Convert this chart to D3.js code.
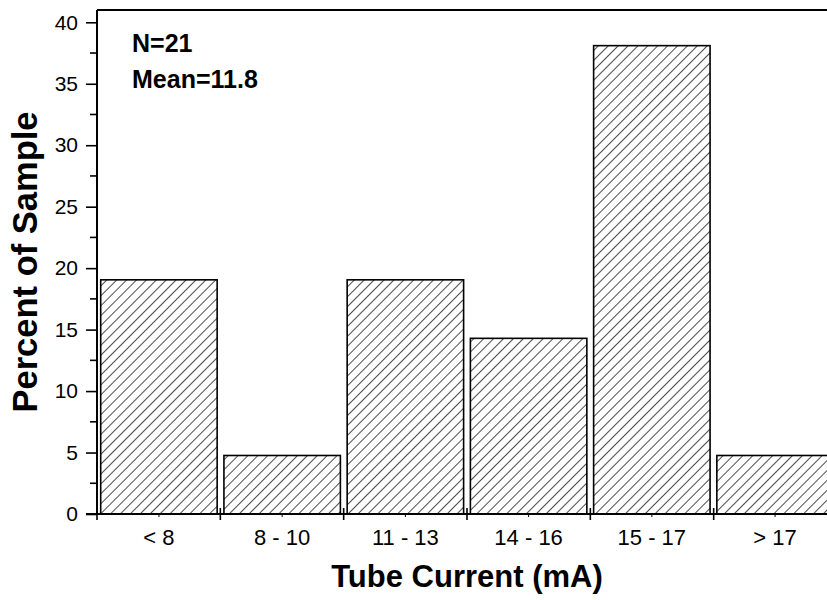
<!DOCTYPE html>
<html>
<head>
<meta charset="utf-8">
<script src="https://cdn.jsdelivr.net/npm/d3@7"></script>
<style>
  body { margin: 0; background: #fff; }
  svg { display: block; font-family: "Liberation Sans", Arial, sans-serif; }
</style>
</head>
<body>
<div id="histogram"></div>
<script>
var categories = ["< 8", "8 - 10", "11 - 13", "14 - 16", "15 - 17", "> 17"];
var percentValues = [19.05, 4.76, 19.05, 14.29, 38.1, 4.76];
var yTickValues = [0, 5, 10, 15, 20, 25, 30, 35, 40];
var notes = ["N=21", "Mean=11.8"];

var width = 827, height = 600;
var margin = {top: 10, left: 97, bottom: 86};
var plotRight = 837;   // the frame runs past the window edge, as in the picture

var svg = d3.select("#histogram").append("svg")
    .attr("width", width)
    .attr("height", height);

var defs = svg.append("defs");
var pattern = defs.append("pattern")
    .attr("id", "hatch")
    .attr("patternUnits", "userSpaceOnUse")
    .attr("width", 7)
    .attr("height", 7)
    .attr("patternTransform", "rotate(45)");
pattern.append("rect").attr("width", 7).attr("height", 7).attr("fill", "#fff");
pattern.append("line")
    .attr("x1", 0).attr("y1", 0)
    .attr("x2", 0).attr("y2", 7)
    .attr("stroke", "#000")
    .attr("stroke-width", 1.4);

var x = d3.scaleBand()
    .domain(categories)
    .range([margin.left, plotRight])
    .paddingInner(0.055)
    .paddingOuter(0.03)
    .align(0.5);

var xEdges = d3.scaleLinear()
    .domain([0, categories.length])
    .range([margin.left, plotRight]);

var y = d3.scaleLinear()
    .domain([0, 41])
    .range([height - margin.bottom, margin.top]);

// bars
svg.append("g")
    .selectAll("rect")
    .data(percentValues)
    .enter().append("rect")
        .attr("x", function(d, i) { return x(categories[i]); })
        .attr("y", function(d) { return y(d); })
        .attr("width", x.bandwidth())
        .attr("height", function(d) { return y(0) - y(d); })
        .attr("fill", "url(#hatch)")
        .attr("stroke", "#000")
        .attr("stroke-width", 1.6);

// frame top
svg.append("line")
    .attr("x1", margin.left).attr("x2", plotRight)
    .attr("y1", y.range()[1]).attr("y2", y.range()[1])
    .attr("stroke", "#000").attr("stroke-width", 2);

// y axis
var yAxis = svg.append("g")
    .attr("transform", "translate(" + margin.left + ",0)")
    .call(d3.axisLeft(y).tickValues(yTickValues).tickSize(11).tickPadding(8))
    .call(function(g) { g.select(".domain").remove(); });
yAxis.selectAll(".tick line").attr("stroke-width", 1.6);
yAxis.selectAll("text")
    .attr("font-size", 21)
    .attr("font-family", "Liberation Sans, Arial, sans-serif")
    .attr("fill", "#000");

svg.append("g")
    .selectAll("line")
    .data(yTickValues.slice(0, -1))
    .enter().append("line")
        .attr("x1", margin.left - 7).attr("x2", margin.left)
        .attr("y1", function(d) { return y(d + 2.5); })
        .attr("y2", function(d) { return y(d + 2.5); })
        .attr("stroke", "#000").attr("stroke-width", 1.6);

svg.append("line")
    .attr("x1", margin.left).attr("x2", margin.left)
    .attr("y1", y.range()[1]).attr("y2", y(0) + 1)
    .attr("stroke", "#000").attr("stroke-width", 2);

// x axis
svg.append("line")
    .attr("x1", margin.left - 11).attr("x2", plotRight)
    .attr("y1", y(0)).attr("y2", y(0))
    .attr("stroke", "#000").attr("stroke-width", 2);

svg.append("g")
    .selectAll("line")
    .data(d3.range(categories.length + 1))
    .enter().append("line")
        .attr("x1", function(d) { return xEdges(d); })
        .attr("x2", function(d) { return xEdges(d); })
        .attr("y1", y(0) - 6).attr("y2", y(0) + 6)
        .attr("stroke", "#000").attr("stroke-width", 1.6);

svg.append("g")
    .selectAll("line")
    .data(categories)
    .enter().append("line")
        .attr("x1", function(d) { return x(d) + x.bandwidth() / 2; })
        .attr("x2", function(d) { return x(d) + x.bandwidth() / 2; })
        .attr("y1", y(0)).attr("y2", y(0) + 3)
        .attr("stroke", "#000").attr("stroke-width", 1);

svg.append("g")
    .selectAll("text")
    .data(categories)
    .enter().append("text")
        .attr("x", function(d) { return x(d) + x.bandwidth() / 2; })
        .attr("y", 545)
        .attr("text-anchor", "middle")
        .attr("font-size", 22)
        .text(function(d) { return d; });

// titles
svg.append("text")
    .attr("x", xEdges(categories.length / 2))
    .attr("y", 587)
    .attr("text-anchor", "middle")
    .attr("font-size", 31)
    .attr("font-weight", "bold")
    .text("Tube Current (mA)");

svg.append("text")
    .attr("transform", "translate(37," + y(20.5) + ") rotate(-90)")
    .attr("text-anchor", "middle")
    .attr("font-size", 34.5)
    .attr("font-weight", "bold")
    .text("Percent of Sample");

svg.append("g")
    .selectAll("text")
    .data(notes)
    .enter().append("text")
        .attr("x", 132)
        .attr("y", function(d, i) { return 52 + i * 36; })
        .attr("font-size", 25)
        .attr("font-weight", "bold")
        .text(function(d) { return d; });
</script>
</body>
</html>
